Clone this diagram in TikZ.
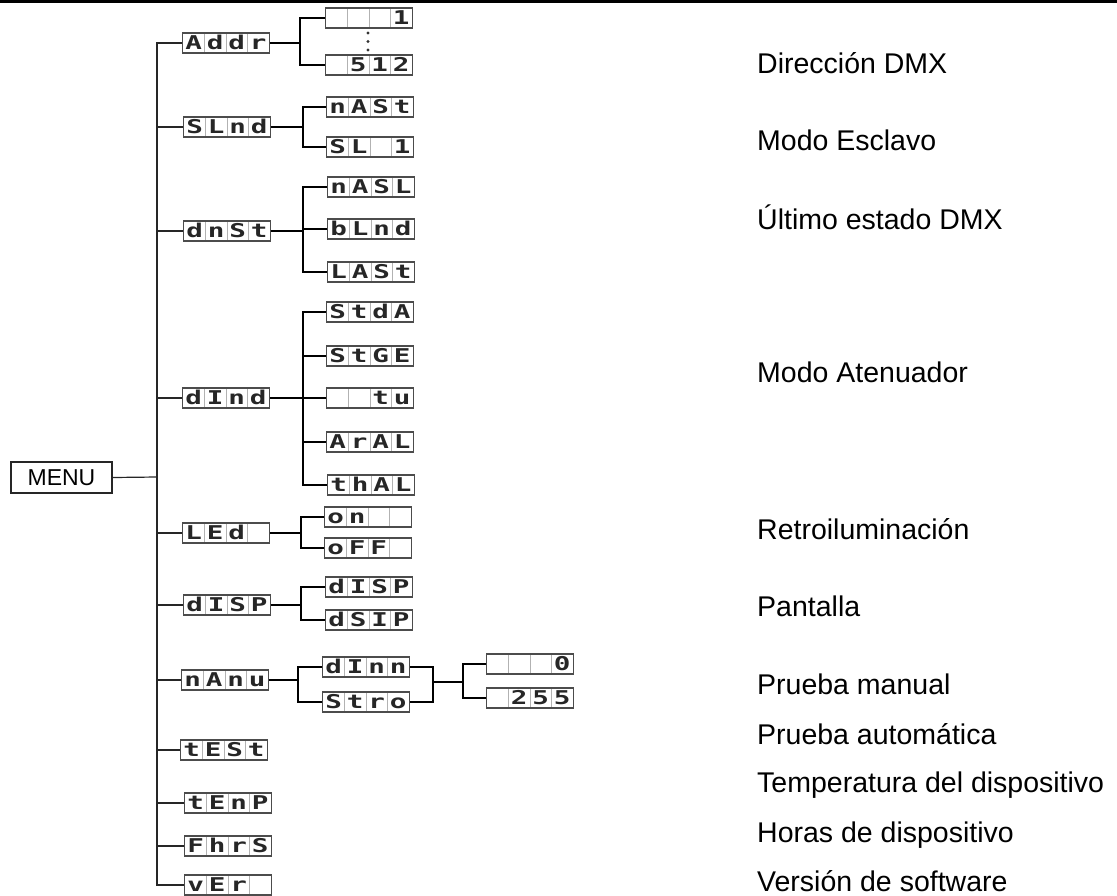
\documentclass[tikz,border=0pt]{standalone}
\usepackage{fontspec}
\usepackage{graphicx}
\setmainfont{Liberation Sans}
\newfontfamily\segfont{DejaVu Sans Mono}
\usetikzlibrary{calc}
\newcommand\dch[1]{\makebox[21.5pt]{\scalebox{1.45}[1]{#1}}}
\newcommand\dd[4]{\rule[-0.5pt]{0pt}{14.5pt}\dch{#1}\dch{#2}\dch{#3}\dch{#4}}
\tikzset{
  disp/.style={draw=black!70, line width=1.1pt, minimum width=87pt, minimum height=20pt,
    inner sep=0pt, text=black!85, font=\segfont\bfseries\fontsize{19}{19}\selectfont,
    path picture={\foreach \k in {1,2,3}{\draw[black!30,line width=0.6pt]
      ($(path picture bounding box.north west)!\k/4!(path picture bounding box.north east)$) --
      ($(path picture bounding box.south west)!\k/4!(path picture bounding box.south east)$);}}},
  menubox/.style={draw=black!85, line width=1.2pt, minimum width=101pt, minimum height=31pt,
    inner sep=0pt, font=\fontsize{23}{23}\selectfont},
  lab/.style={anchor=base west, inner sep=0pt, font=\fontsize{28.5}{30}\selectfont},
  thinline/.style={line width=1.2pt, black!85},
  brline/.style={line width=2.2pt, black, line join=miter}
}
\begin{document}
\begin{tikzpicture}[x=1pt,y=-1pt]
\useasboundingbox (0,0) rectangle (1117,895);
\fill[black] (0,0) rectangle (1117,3);

% MENU and trunk
\node[menubox] (menu) at (61.5,477.5) {MENU};
\coordinate (tk) at (157,477);

% level 1
\node[disp] (addr) at (226,43)  {\dd{A}{d}{d}{r}};
\node[disp] (slnd) at (227,127) {\dd{S}{L}{n}{d}};
\node[disp] (dnst) at (227,231) {\dd{d}{n}{S}{t}};
\node[disp] (dind) at (226,398) {\dd{d}{I}{n}{d}};
\node[disp] (led)  at (226,533) {\dd{L}{E}{d}{}};
\node[disp] (disp) at (227,605) {\dd{d}{I}{S}{P}};
\node[disp] (manu) at (225,680) {\dd{n}{A}{n}{u}};
\node[disp] (test) at (224,750) {\dd{t}{E}{S}{t}};
\node[disp] (temp) at (228,803) {\dd{t}{E}{n}{P}};
\node[disp] (fhrs) at (228,846) {\dd{F}{h}{r}{S}};
\node[disp] (ver)  at (228,885) {\dd{v}{E}{r}{}};

\draw[thinline] (menu.east) -- (tk);
\foreach \n in {addr,slnd,dnst,dind,led,disp,manu,test,temp,fhrs,ver}
  \draw[thinline] (\n.west) -| (tk);

% level 2
\node[disp] (a1)   at (369,18)  {\dd{}{}{}{1}};
\node[disp] (a512) at (369,65)  {\dd{}{5}{1}{2}};
\node[disp] (mast) at (370,107) {\dd{n}{A}{S}{t}};
\node[disp] (sl1)  at (370,147) {\dd{S}{L}{}{1}};
\node[disp] (nasl) at (371,187) {\dd{n}{A}{S}{L}};
\node[disp] (blnd) at (371,229) {\dd{b}{L}{n}{d}};
\node[disp] (last) at (371,272) {\dd{L}{A}{S}{t}};
\node[disp] (stda) at (370,312) {\dd{S}{t}{d}{A}};
\node[disp] (stge) at (370,356) {\dd{S}{t}{G}{E}};
\node[disp] (tu)   at (370,398) {\dd{}{}{t}{u}};
\node[disp] (aral) at (370,442) {\dd{A}{r}{A}{L}};
\node[disp] (thal) at (371,485) {\dd{t}{h}{A}{L}};
\node[disp] (on)   at (368,517) {\dd{o}{n}{}{}};
\node[disp] (off)  at (368,548) {\dd{o}{F}{F}{}};
\node[disp] (dsp1) at (369,587) {\dd{d}{I}{S}{P}};
\node[disp] (dsip) at (369,620) {\dd{d}{S}{I}{P}};
\node[disp] (dimm) at (366,667) {\dd{d}{I}{n}{n}};
\node[disp] (stro) at (366,702) {\dd{S}{t}{r}{o}};
\node[disp] (z0)   at (530,664) {\dd{}{}{}{0}};
\node[disp] (z255) at (530,698) {\dd{}{2}{5}{5}};

% branch points
\coordinate (bA) at (300,43);
\coordinate (bS) at (303,127);
\coordinate (bD) at (303,231);
\coordinate (bI) at (303,398);
\coordinate (bL) at (301,533);
\coordinate (bP) at (301,605);
\coordinate (bM) at (298,680);
\coordinate (j1) at (433,682);
\coordinate (j2) at (463,682);

\draw[brline] (addr.east) -- (bA);
\draw[brline] (a1.west) -| (bA);
\draw[brline] (a512.west) -| (bA);
\draw[brline] (slnd.east) -- (bS);
\foreach \n in {mast,sl1} \draw[brline] (\n.west) -| (bS);
\draw[brline] (dnst.east) -- (bD);
\foreach \n in {nasl,blnd,last} \draw[brline] (\n.west) -| (bD);
\draw[brline] (dind.east) -- (bI);
\foreach \n in {stda,stge,tu,aral,thal} \draw[brline] (\n.west) -| (bI);
\draw[brline] (led.east) -- (bL);
\foreach \n in {on,off} \draw[brline] (\n.west) -| (bL);
\draw[brline] (disp.east) -- (bP);
\foreach \n in {dsp1,dsip} \draw[brline] (\n.west) -| (bP);
\draw[brline] (manu.east) -- (bM);
\foreach \n in {dimm,stro} \draw[brline] (\n.west) -| (bM);
\foreach \n in {dimm,stro} \draw[brline] (\n.east) -| (j1);
\draw[brline] (j1) -- (j2);
\foreach \n in {z0,z255} \draw[brline] (\n.west) -| (j2);

% dots
\foreach \yy in {33,41.5,50} \fill[black!80] (368,\yy) circle (1.6);

% labels
\node[lab] (l1)  at (757,73)  {Dirección DMX};
\node[lab] (l2)  at (757,150) {Modo Esclavo};
\node[lab] (l3)  at (757,229) {Último estado DMX};
\node[lab] (l4)  at (757,382) {Modo Atenuador};
\node[lab] (l5)  at (757,539) {Retroiluminación};
\node[lab] (l6)  at (757,616) {Pantalla};
\node[lab] (l7)  at (757,694) {Prueba manual};
\node[lab] (l8)  at (757,744) {Prueba automática};
\node[lab] (l9)  at (757,792) {Temperatura del dispositivo};
\node[lab] (l10) at (757,842) {Horas de dispositivo};
\node[lab] (l11) at (757,891) {Versión de software};
\end{tikzpicture}
\end{document}
